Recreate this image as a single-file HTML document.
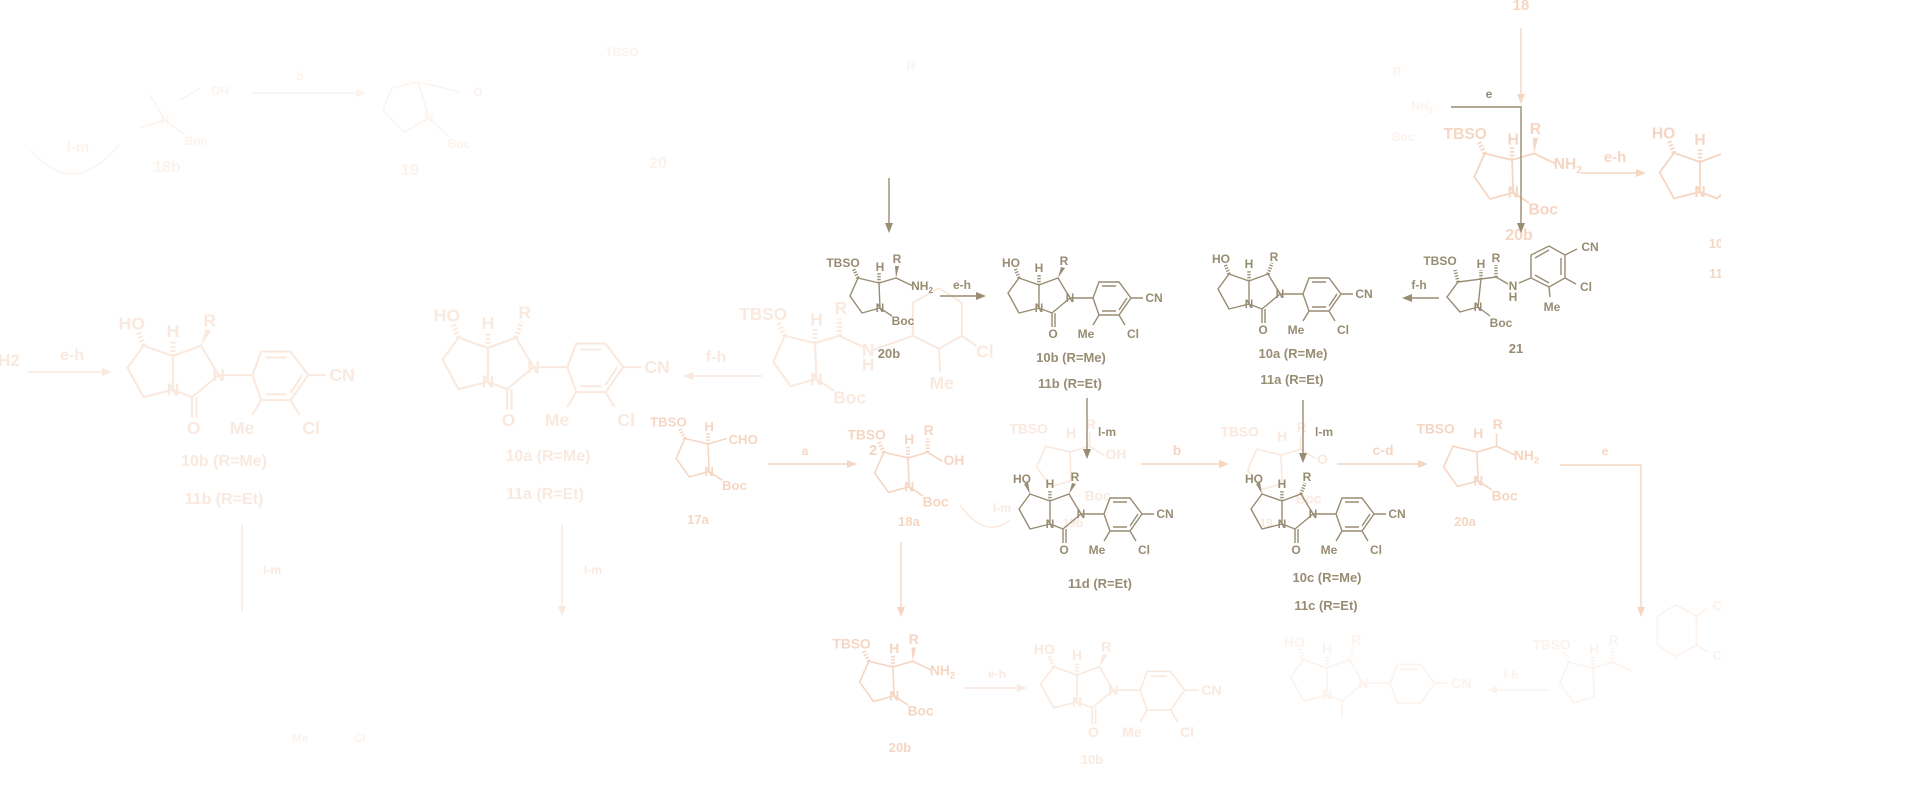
<!DOCTYPE html>
<html><head><meta charset="utf-8"><style>
html,body{margin:0;padding:0;background:#fff;width:1920px;height:785px;overflow:hidden}
svg{display:block}
text{font-family:"Liberation Sans",sans-serif;font-weight:bold;font-size:12px;fill:currentColor;stroke:none;text-anchor:middle}
.l{fill:none;stroke:currentColor;stroke-width:1.4}
.h{fill:none;stroke:currentColor;stroke-width:3.5;stroke-dasharray:1.3 1.5}
polygon{fill:currentColor;stroke:none}
.lb{font-size:13px}
.D{color:#988c72}.O1{color:#f5d6c2}.O2{color:#f9e9de}.O3{color:#fcf3ed}
</style></head><body>
<svg width="1920" height="785" viewBox="0 0 1920 785" xmlns="http://www.w3.org/2000/svg">

<g class="O3">
<path class="l" d="M165,120L150,95 M165,120L140,128 M180,100L200,88 M165,120L185,135"/>
<text x="220" y="95">OH</text><text x="165" y="124">N</text><text x="196" y="145">Boc</text><text x="167" y="172" style="font-size:16px">18b</text>
<path class="l" d="M31,150Q73,200 119,145"/><text x="78" y="152" style="font-size:15px">l-m</text>
<path class="l" d="M251,93L364,93"/><polygon points="366,93 356,89 356,97"/><text x="300" y="80">b</text>
<path class="l" d="M392,88L418,82L429,118L404,132L383,110Z M429,118L450,138 M418,82L460,92"/>
<text x="478" y="96">O</text><text x="429" y="122">N</text><text x="459" y="148">Boc</text><text x="410" y="175" style="font-size:16px">19</text>
<text x="622" y="56">TBSO</text><text x="658" y="168" style="font-size:16px">20</text><text x="911" y="70">R</text>
</g>

<g class="O2">
<text x="9" y="366" style="font-size:17px">H2</text>
<path class="l" d="M28,372L108,372"/><polygon points="112,372 102,368 102,376"/><text x="72" y="360" style="font-size:16px">e-h</text>
<g transform="translate(173,356) scale(1.47)">
<path class="l" d="M-20,-7L0,0L0,23L-20,28L-31,8Z M0,0L19,-7L31,13L13,28L0,23 M13,28L13,42 M16,28L16,42 M31,13L54,13 M54,13L60,-3L80,-3L92,13L80,30L60,30Z M63,1L77,1 M63,26L77,26 M88,13L80,25 M92,13L104,13 M80,30L86,40 M60,30L54,40"/>
<path class="h" d="M-20,-7L-24,-17 M0,0L0,-11"/><polygon points="19,-7 22,-18 26,-17"/>
<text x="-28" y="-18">HO</text><text x="0" y="-13">H</text><text x="25" y="-20">R</text><text x="31" y="17">N</text><text x="0" y="27">N</text><text x="14" y="53">O</text><text x="47" y="53">Me</text><text x="94" y="53">Cl</text><text x="115" y="17">CN</text>
</g>
<text x="224" y="466" style="font-size:16px">10b (R=Me)</text><text x="224" y="504" style="font-size:16px">11b (R=Et)</text>
<g transform="translate(488,348) scale(1.47)">
<path class="l" d="M-20,-7L0,0L0,23L-20,28L-31,8Z M0,0L19,-7L31,13L13,28L0,23 M13,28L13,42 M16,28L16,42 M31,13L54,13 M54,13L60,-3L80,-3L92,13L80,30L60,30Z M63,1L77,1 M63,26L77,26 M88,13L80,25 M92,13L104,13 M80,30L86,40 M60,30L54,40"/>
<path class="h" d="M-20,-7L-24,-17 M0,0L0,-11 M19,-7L23,-18"/>
<text x="-28" y="-18">HO</text><text x="0" y="-13">H</text><text x="25" y="-20">R</text><text x="31" y="17">N</text><text x="0" y="27">N</text><text x="14" y="53">O</text><text x="47" y="53">Me</text><text x="94" y="53">Cl</text><text x="115" y="17">CN</text>
</g>
<text x="548" y="461" style="font-size:16px">10a (R=Me)</text><text x="545" y="499" style="font-size:16px">11a (R=Et)</text>
<path class="l" d="M762,376L687,376"/><polygon points="683,376 693,372 693,380"/><text x="716" y="362" style="font-size:16px">f-h</text>
<g transform="translate(815,343) scale(1.44)">
<path class="l" d="M-21,-5L0,0L1,25L-17,30L-29,13Z M0,0L17,-5L34,3 M1,25L13,33 M40,5L68,-5 M68,-5L68,-28L86,-38L102,-28L102,-5L86,4Z M86,4L87,20 M102,-5L112,2"/>
<path class="h" d="M-21,-5L-26,-15 M0,0L0,-10 M17,-5L17,-17"/>
<text x="-36" y="-16">TBSO</text><text x="1" y="-12">H</text><text x="18" y="-20">R</text><text x="37" y="9">N</text><text x="37" y="19">H</text><text x="1" y="29">N</text><text x="24" y="42">Boc</text><text x="88" y="32">Me</text><text x="118" y="10">Cl</text>
</g>
<path class="l" d="M242,525L242,612 M562,525L562,612"/><polygon points="562,616 558,606 566,606"/>
<text x="593" y="574">l-m</text><text x="272" y="574">l-m</text>
</g>
<g class="O3">
<text x="300" y="742">Me</text><text x="360" y="742">Cl</text>
</g>

<g class="O1">
<g transform="translate(708,444) scale(1.1)">
<path class="l" d="M-21,-5L0,0L1,25L-17,30L-29,13Z M0,0L17,-5 M1,25L13,33"/>
<path class="h" d="M-21,-5L-26,-15 M0,0L0,-10"/>
<text x="-36" y="-16">TBSO</text><text x="1" y="-12">H</text><text x="32" y="0">CHO</text><text x="1" y="29">N</text><text x="24" y="42">Boc</text>
</g>
<text x="698" y="524" class="lb">17a</text>
<path class="l" d="M768,464L853,464"/><polygon points="857,464 847,460 847,468"/><text x="805" y="455">a</text>
<g transform="translate(908,458) scale(1.15)">
<path class="l" d="M-21,-5L0,0L1,25L-17,30L-29,13Z M0,0L17,-5L30,3 M1,25L13,33"/>
<path class="h" d="M-21,-5L-26,-15 M0,0L0,-10 M17,-5L17,-17"/>
<text x="-36" y="-16">TBSO</text><text x="1" y="-12">H</text><text x="18" y="-20">R</text><text x="40" y="6">OH</text><text x="1" y="29">N</text><text x="24" y="42">Boc</text>
</g>
<text x="873" y="455" style="font-size:15px">2</text>
<text x="909" y="526" class="lb">18a</text>
<path class="l" d="M901,542L901,613"/><polygon points="901,617 897,607 905,607"/>
<g transform="translate(893,667) scale(1.15)">
<path class="l" d="M-21,-5L0,0L1,25L-17,30L-29,13Z M0,0L17,-5L34,3 M1,25L13,33"/>
<path class="h" d="M-21,-5L-26,-15 M0,0L0,-10"/><polygon points="17,-5 16,-17 20,-17"/>
<text x="-36" y="-16">TBSO</text><text x="1" y="-12">H</text><text x="18" y="-20">R</text><text x="43" y="7">NH<tspan font-size="8" dy="3">2</tspan></text><text x="1" y="29">N</text><text x="24" y="42">Boc</text>
</g>
<text x="900" y="752" class="lb">20b</text>
<path class="l" d="M1141,464L1225,464"/><polygon points="1229,464 1219,460 1219,468"/><text x="1177" y="455" style="font-size:14px">b</text>
<path class="l" d="M1337,464L1424,464"/><polygon points="1428,464 1418,460 1418,468"/><text x="1383" y="455" style="font-size:14px">c-d</text>
<g transform="translate(1477,452) scale(1.15)">
<path class="l" d="M-21,-5L0,0L1,25L-17,30L-29,13Z M0,0L17,-5L34,3 M1,25L13,33 M17,-5L17,-16"/>
<text x="-36" y="-16">TBSO</text><text x="1" y="-12">H</text><text x="18" y="-20">R</text><text x="43" y="7">NH<tspan font-size="8" dy="3">2</tspan></text><text x="1" y="29">N</text><text x="24" y="42">Boc</text>
</g>
<text x="1465" y="526" class="lb">20a</text>
<path class="l" d="M1560,465L1641,465L1641,613"/><polygon points="1641,617 1637,607 1645,607"/><text x="1605" y="455">e</text>
<text x="1521" y="10" style="font-size:15px">18</text>
<path class="l" d="M1521,28L1521,100"/><polygon points="1521,104 1517,94 1525,94"/>
<g transform="translate(1512,160) scale(1.3)">
<path class="l" d="M-21,-5L0,0L1,25L-17,30L-29,13Z M0,0L17,-5L34,3 M1,25L13,33"/>
<path class="h" d="M-21,-5L-26,-15 M0,0L0,-10"/><polygon points="17,-5 16,-17 20,-17"/>
<text x="-36" y="-16">TBSO</text><text x="1" y="-12">H</text><text x="18" y="-20">R</text><text x="43" y="7">NH<tspan font-size="8" dy="3">2</tspan></text><text x="1" y="29">N</text><text x="24" y="42">Boc</text>
</g>
<text x="1519" y="240" style="font-size:16px">20b</text>
<path class="l" d="M1581,173L1642,173"/><polygon points="1646,173 1636,169 1636,177"/><text x="1615" y="162" style="font-size:15px">e-h</text>
<g transform="translate(1700,162) scale(1.3)">
<path class="l" d="M-20,-7L0,0L0,23L-20,28L-31,8Z M0,0L19,-7L31,13L13,28L0,23 M31,13L54,13"/>
<path class="h" d="M-20,-7L-24,-17 M0,0L0,-11"/><polygon points="19,-7 22,-18 26,-17"/>
<text x="-28" y="-18">HO</text><text x="0" y="-13">H</text><text x="25" y="-20">R</text><text x="0" y="27">N</text>
</g>
<text x="1720" y="248" class="lb">10b</text><text x="1720" y="278" class="lb">11b</text>
</g>

<g class="O2">
<g transform="translate(1070,452) scale(1.15)">
<path class="l" d="M-21,-5L0,0L1,25L-17,30L-29,13Z M0,0L17,-5L30,3 M17,-5L17,-17"/>
<text x="-36" y="-16">TBSO</text><text x="1" y="-12">H</text><text x="18" y="-20">R</text><text x="40" y="6">OH</text><text x="24" y="42">Boc</text>
</g>
<text x="1073" y="527">19b</text><text x="1002" y="512">l-m</text><path class="l" d="M960,505Q985,540 1010,520"/>
<g transform="translate(1281,455) scale(1.15)">
<path class="l" d="M-21,-5L0,0L1,25L-17,30L-29,13Z M0,0L17,-5L30,3 M17,-5L17,-17"/>
<text x="-36" y="-16">TBSO</text><text x="1" y="-12">H</text><text x="18" y="-20">R</text><text x="36" y="8">O</text><text x="24" y="42">Boc</text>
</g>
<text x="1266" y="527">19</text>
<path class="l" d="M963,688L1023,688"/><polygon points="1027,688 1017,684 1017,692"/><text x="997" y="678">e-h</text>
<g transform="translate(1077,675) scale(1.17)">
<path class="l" d="M-20,-7L0,0L0,23L-20,28L-31,8Z M0,0L19,-7L31,13L13,28L0,23 M13,28L13,42 M16,28L16,42 M31,13L54,13 M54,13L60,-3L80,-3L92,13L80,30L60,30Z M63,1L77,1 M92,13L104,13 M80,30L86,40 M60,30L54,40"/>
<path class="h" d="M-20,-7L-24,-17 M0,0L0,-11"/><polygon points="19,-7 22,-18 26,-17"/>
<text x="-28" y="-18">HO</text><text x="0" y="-13">H</text><text x="25" y="-20">R</text><text x="31" y="17">N</text><text x="0" y="27">N</text><text x="14" y="53">O</text><text x="47" y="53">Me</text><text x="94" y="53">Cl</text><text x="115" y="17">CN</text>
</g>
<text x="1092" y="764" class="lb">10b</text>
</g>
<g class="O3">
<g transform="translate(1327,668) scale(1.17)">
<path class="l" d="M-20,-7L0,0L0,23L-20,28L-31,8Z M0,0L19,-7L31,13L13,28L0,23 M13,28L13,42 M31,13L54,13 M54,13L60,-3L80,-3L92,13L80,30L60,30Z M63,1L77,1 M92,13L104,13"/>
<path class="h" d="M-20,-7L-24,-17 M0,0L0,-11 M19,-7L23,-18"/>
<text x="-28" y="-18">HO</text><text x="0" y="-13">H</text><text x="25" y="-20">R</text><text x="31" y="17">N</text><text x="0" y="27">N</text><text x="115" y="17">CN</text>
</g>
<path class="l" d="M1548,690L1491,690"/><polygon points="1487,690 1497,686 1497,694"/><text x="1511" y="679">f-h</text>
<g transform="translate(1593,668) scale(1.15)">
<path class="l" d="M-21,-5L0,0L1,25L-17,30L-29,13Z M0,0L17,-5L34,3 M56,-20L56,-45L72,-55L90,-45L90,-20L72,-10Z M90,-45L100,-52 M90,-20L100,-14"/>
<path class="h" d="M-21,-5L-26,-15 M0,0L0,-10 M17,-5L17,-17"/>
<text x="-36" y="-16">TBSO</text><text x="1" y="-12">H</text><text x="18" y="-20">R</text><text x="108" y="-50">C</text><text x="108" y="-7">C</text>
</g>
</g>

<g class="D">
<path class="l" d="M889,178L889,229"/><polygon points="889,233 885,223 893,223"/>
<g transform="translate(879,283)">
<path class="l" d="M-21,-5L0,0L1,25L-17,30L-29,13Z M0,0L17,-5L34,3 M1,25L13,33"/>
<path class="h" d="M-21,-5L-26,-15 M0,0L0,-10"/><polygon points="17,-5 16,-17 20,-17"/>
<text x="-36" y="-16">TBSO</text><text x="1" y="-12">H</text><text x="18" y="-20">R</text><text x="43" y="7">NH<tspan font-size="8" dy="3">2</tspan></text><text x="1" y="29">N</text><text x="24" y="42">Boc</text>
</g>
<text x="889" y="358" class="lb">20b</text>
<path class="l" d="M940,296L982,296"/><polygon points="986,296 976,292 976,300"/><text x="962" y="289">e-h</text>
<g transform="translate(1039,285)">
<path class="l" d="M-20,-7L0,0L0,23L-20,28L-31,8Z M0,0L19,-7L31,13L13,28L0,23 M13,28L13,42 M16,28L16,42 M31,13L54,13 M54,13L60,-3L80,-3L92,13L80,30L60,30Z M63,1L77,1 M63,26L77,26 M88,13L80,25 M92,13L104,13 M80,30L86,40 M60,30L54,40"/>
<path class="h" d="M-20,-7L-24,-17 M0,0L0,-11"/><polygon points="19,-7 22,-18 26,-17"/>
<text x="-28" y="-18">HO</text><text x="0" y="-13">H</text><text x="25" y="-20">R</text><text x="31" y="17">N</text><text x="0" y="27">N</text><text x="14" y="53">O</text><text x="47" y="53">Me</text><text x="94" y="53">Cl</text><text x="115" y="17">CN</text>
</g>
<text x="1071" y="362" class="lb">10b (R=Me)</text><text x="1070" y="388" class="lb">11b (R=Et)</text>
<g transform="translate(1249,281)">
<path class="l" d="M-20,-7L0,0L0,23L-20,28L-31,8Z M0,0L19,-7L31,13L13,28L0,23 M13,28L13,42 M16,28L16,42 M31,13L54,13 M54,13L60,-3L80,-3L92,13L80,30L60,30Z M63,1L77,1 M63,26L77,26 M88,13L80,25 M92,13L104,13 M80,30L86,40 M60,30L54,40"/>
<path class="h" d="M-20,-7L-24,-17 M0,0L0,-11 M19,-7L23,-18"/>
<text x="-28" y="-18">HO</text><text x="0" y="-13">H</text><text x="25" y="-20">R</text><text x="31" y="17">N</text><text x="0" y="27">N</text><text x="14" y="53">O</text><text x="47" y="53">Me</text><text x="94" y="53">Cl</text><text x="115" y="17">CN</text>
</g>
<text x="1293" y="358" class="lb">10a (R=Me)</text><text x="1292" y="384" class="lb">11a (R=Et)</text>
<path class="l" d="M1439,298L1406,298"/><polygon points="1402,298 1412,294 1412,302"/><text x="1419" y="289">f-h</text>
<path class="l" d="M1458,282L1481,279L1478,307L1460,312L1447,297Z M1481,279L1496,277L1508,284 M1519,283L1531,278 M1531,278L1531,255L1549,246L1565,255L1565,278L1549,287Z M1535,258L1549,250 M1561,258L1561,275 M1535,275L1549,283 M1565,255L1577,249 M1565,278L1576,284 M1549,287L1550,297 M1478,307L1490,316"/>
<path class="h" d="M1458,282L1455,270 M1481,279L1481,270 M1496,277L1496,265"/>
<text x="1440" y="265">TBSO</text><text x="1481" y="268">H</text><text x="1496" y="262">R</text><text x="1513" y="290">N</text><text x="1513" y="301">H</text><text x="1478" y="311">N</text><text x="1501" y="327">Boc</text><text x="1590" y="251">CN</text><text x="1586" y="291">Cl</text><text x="1552" y="311">Me</text>
<text x="1516" y="353" class="lb">21</text>
<path class="l" d="M1451,107L1521,107L1521,229"/><polygon points="1521,233 1517,223 1525,223"/><text x="1489" y="98">e</text>
<path class="l" d="M1087,398L1087,455"/><polygon points="1087,459 1083,449 1091,449"/><text x="1107" y="436">l-m</text>
<path class="l" d="M1303,400L1303,459"/><polygon points="1303,463 1299,453 1307,453"/><text x="1324" y="436">l-m</text>
<g transform="translate(1050,501)">
<path class="l" d="M-20,-7L0,0L0,23L-20,28L-31,8Z M0,0L19,-7L31,13L13,28L0,23 M13,28L13,42 M16,28L16,42 M31,13L54,13 M54,13L60,-3L80,-3L92,13L80,30L60,30Z M63,1L77,1 M63,26L77,26 M88,13L80,25 M92,13L104,13 M80,30L86,40 M60,30L54,40"/>
<path class="h" d="M0,0L0,-11"/><polygon points="-20,-7 -26,-17 -22,-19"/><polygon points="19,-7 22,-18 26,-17"/>
<text x="-28" y="-18">HO</text><text x="0" y="-13">H</text><text x="25" y="-20">R</text><text x="31" y="17">N</text><text x="0" y="27">N</text><text x="14" y="53">O</text><text x="47" y="53">Me</text><text x="94" y="53">Cl</text><text x="115" y="17">CN</text>
</g>
<text x="1100" y="588" class="lb">11d (R=Et)</text>
<g transform="translate(1282,501)">
<path class="l" d="M-20,-7L0,0L0,23L-20,28L-31,8Z M0,0L19,-7L31,13L13,28L0,23 M13,28L13,42 M16,28L16,42 M31,13L54,13 M54,13L60,-3L80,-3L92,13L80,30L60,30Z M63,1L77,1 M63,26L77,26 M88,13L80,25 M92,13L104,13 M80,30L86,40 M60,30L54,40"/>
<path class="h" d="M0,0L0,-11 M19,-7L23,-18"/><polygon points="-20,-7 -26,-17 -22,-19"/>
<text x="-28" y="-18">HO</text><text x="0" y="-13">H</text><text x="25" y="-20">R</text><text x="31" y="17">N</text><text x="0" y="27">N</text><text x="14" y="53">O</text><text x="47" y="53">Me</text><text x="94" y="53">Cl</text><text x="115" y="17">CN</text>
</g>
<text x="1327" y="582" class="lb">10c (R=Me)</text><text x="1326" y="610" class="lb">11c (R=Et)</text>
</g>
<g class="O3"><text x="1422" y="110">NH<tspan font-size="8" dy="3">2</tspan></text><text x="1397" y="76">R</text><text x="1403" y="141">Boc</text></g>

<rect x="1721" y="0" width="199" height="785" fill="#fff"/>
</svg>
</body></html>
